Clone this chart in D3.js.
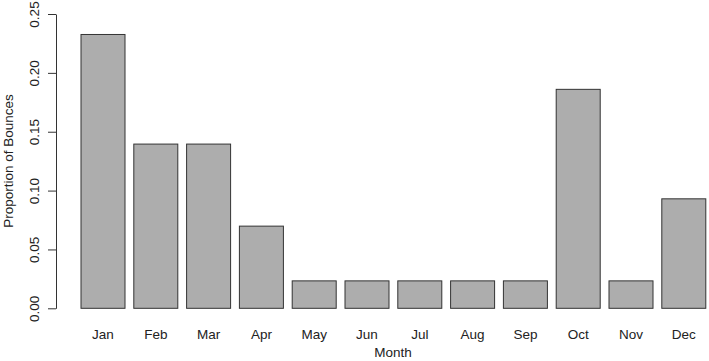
<!DOCTYPE html>
<html>
<head>
<meta charset="utf-8">
<script src="https://cdn.jsdelivr.net/npm/d3@7"></script>
<style>
  body { margin: 0; background: #fff; }
  svg { display: block; font-family: "Liberation Sans", Arial, sans-serif; }
  .axis path, .axis line { stroke: #333; }
  .axis text { fill: #222; font-size: 13.5px; }
</style>
</head>
<body>
<svg id="chart"></svg>
<script>
const months = ['Jan', 'Feb', 'Mar', 'Apr', 'May', 'Jun', 'Jul', 'Aug', 'Sep', 'Oct', 'Nov', 'Dec'];
const proportions = [0.2326, 0.1395, 0.1395, 0.0698, 0.0233, 0.0233, 0.0233, 0.0233, 0.0233, 0.1860, 0.0233, 0.0930];
const yTicks = [0, 0.05, 0.10, 0.15, 0.20, 0.25];

const width = 709;
const height = 361;
const axisX = 56;

const svg = d3.select('#chart')
  .attr('width', width)
  .attr('height', height);

// R barplot: width 1, space 0.2
const x = d3.scaleBand()
  .domain(months)
  .range([76.6, 76.6 + 12 * 52.8])
  .paddingInner(1 / 6)
  .paddingOuter(1 / 12);

const y = d3.scaleLinear()
  .domain([0, 0.25])
  .range([308.3, 14]);

svg.selectAll('.bar')
  .data(proportions)
  .enter().append('rect')
  .attr('class', 'bar')
  .attr('x', (d, i) => x(months[i]))
  .attr('y', (d) => y(d))
  .attr('width', x.bandwidth())
  .attr('height', (d) => y(0) - y(d))
  .attr('fill', '#adadad')
  .attr('stroke', '#333')
  .attr('stroke-width', 1);

const yAxis = svg.append('g')
  .attr('class', 'axis')
  .attr('transform', `translate(${axisX},0)`)
  .call(d3.axisLeft(y).tickValues(yTicks).tickSize(8).tickSizeOuter(0).tickFormat(d3.format('.2f')));

yAxis.selectAll('text')
  .attr('transform', 'rotate(-90)')
  .attr('x', 0)
  .attr('y', -17)
  .attr('dy', 0)
  .style('text-anchor', 'middle');

svg.selectAll('.month')
  .data(months)
  .enter().append('text')
  .attr('class', 'month')
  .attr('x', (d) => x(d) + x.bandwidth() / 2)
  .attr('y', 339)
  .attr('text-anchor', 'middle')
  .attr('fill', '#222')
  .style('font-size', '13.5px')
  .text((d) => d);

svg.append('text')
  .attr('x', 393)
  .attr('y', 357)
  .attr('text-anchor', 'middle')
  .attr('fill', '#222')
  .style('font-size', '13.5px')
  .text('Month');

svg.append('text')
  .attr('transform', 'translate(13,161) rotate(-90)')
  .attr('text-anchor', 'middle')
  .attr('fill', '#222')
  .style('font-size', '13.5px')
  .text('Proportion of Bounces');
</script>
</body>
</html>
